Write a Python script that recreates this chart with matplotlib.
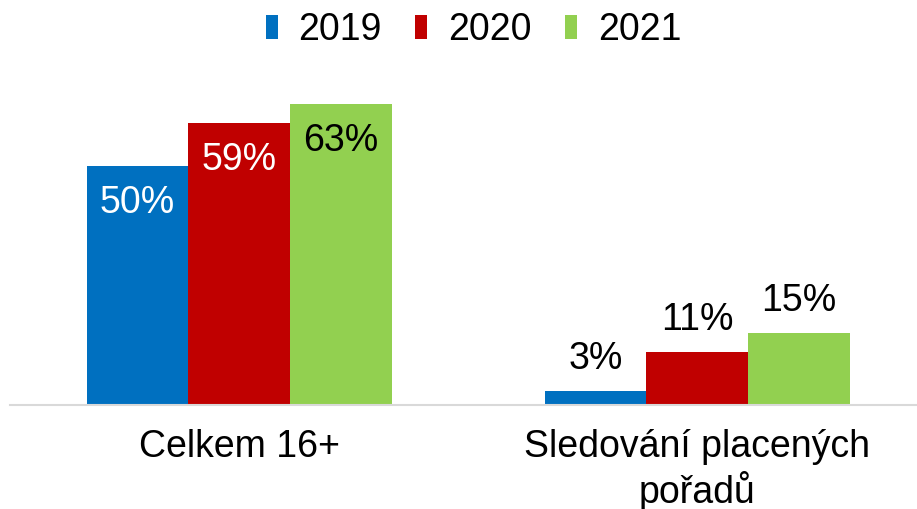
import matplotlib.pyplot as plt
import numpy as np

plt.rcParams['font.family'] = ['Liberation Sans', 'DejaVu Sans']

categories = ['Celkem 16+', 'Sledování placených\npořadů']
years = ['2019', '2020', '2021']
values_2019 = [50, 3]
values_2020 = [59, 11]
values_2021 = [63, 15]

colors = ['#0070C0', '#C00000', '#92D050']
# labels inside bars for the first group, above bars for the second
inside_text = [['white', 'white', 'black'], None]

fig = plt.figure(figsize=(9.17, 5.09), dpi=100)
ax = fig.add_axes([0.011, 0.2043, 0.989, 0.658])

x = np.arange(len(categories))
width = 0.222
series = [values_2019, values_2020, values_2021]

for i, (vals, year, col) in enumerate(zip(series, years, colors)):
    pos = x + (i - 1) * width
    ax.bar(pos, vals, width, color=col, label=year)
    for j, v in enumerate(vals):
        if inside_text[j] is not None:
            ax.annotate(f'{v}%', (pos[j], v), xytext=(0, -27), textcoords='offset points',
                        ha='center', va='center', fontsize=27, color=inside_text[j][i])
        else:
            ax.annotate(f'{v}%', (pos[j], v), xytext=(0, 23), textcoords='offset points',
                        ha='center', va='center', fontsize=27, color='black')

ax.set_xlim(-0.5, 1.48)
ax.set_ylim(0, 70)
ax.set_xticks(x)
ax.set_xticklabels(categories, fontsize=27, linespacing=1.2)
ax.tick_params(axis='x', length=0, pad=17)
ax.set_yticks([])
for s in ['top', 'right', 'left']:
    ax.spines[s].set_visible(False)
ax.spines['bottom'].set_color('#D9D9D9')
ax.spines['bottom'].set_linewidth(1.5)

ax.legend(loc='center', bbox_to_anchor=(0.511, 1.12), ncol=3, frameon=False, fontsize=27,
          handlelength=0.32, handleheight=0.6, handletextpad=0.55, columnspacing=0.9)

fig.savefig('out.png', dpi=100)
